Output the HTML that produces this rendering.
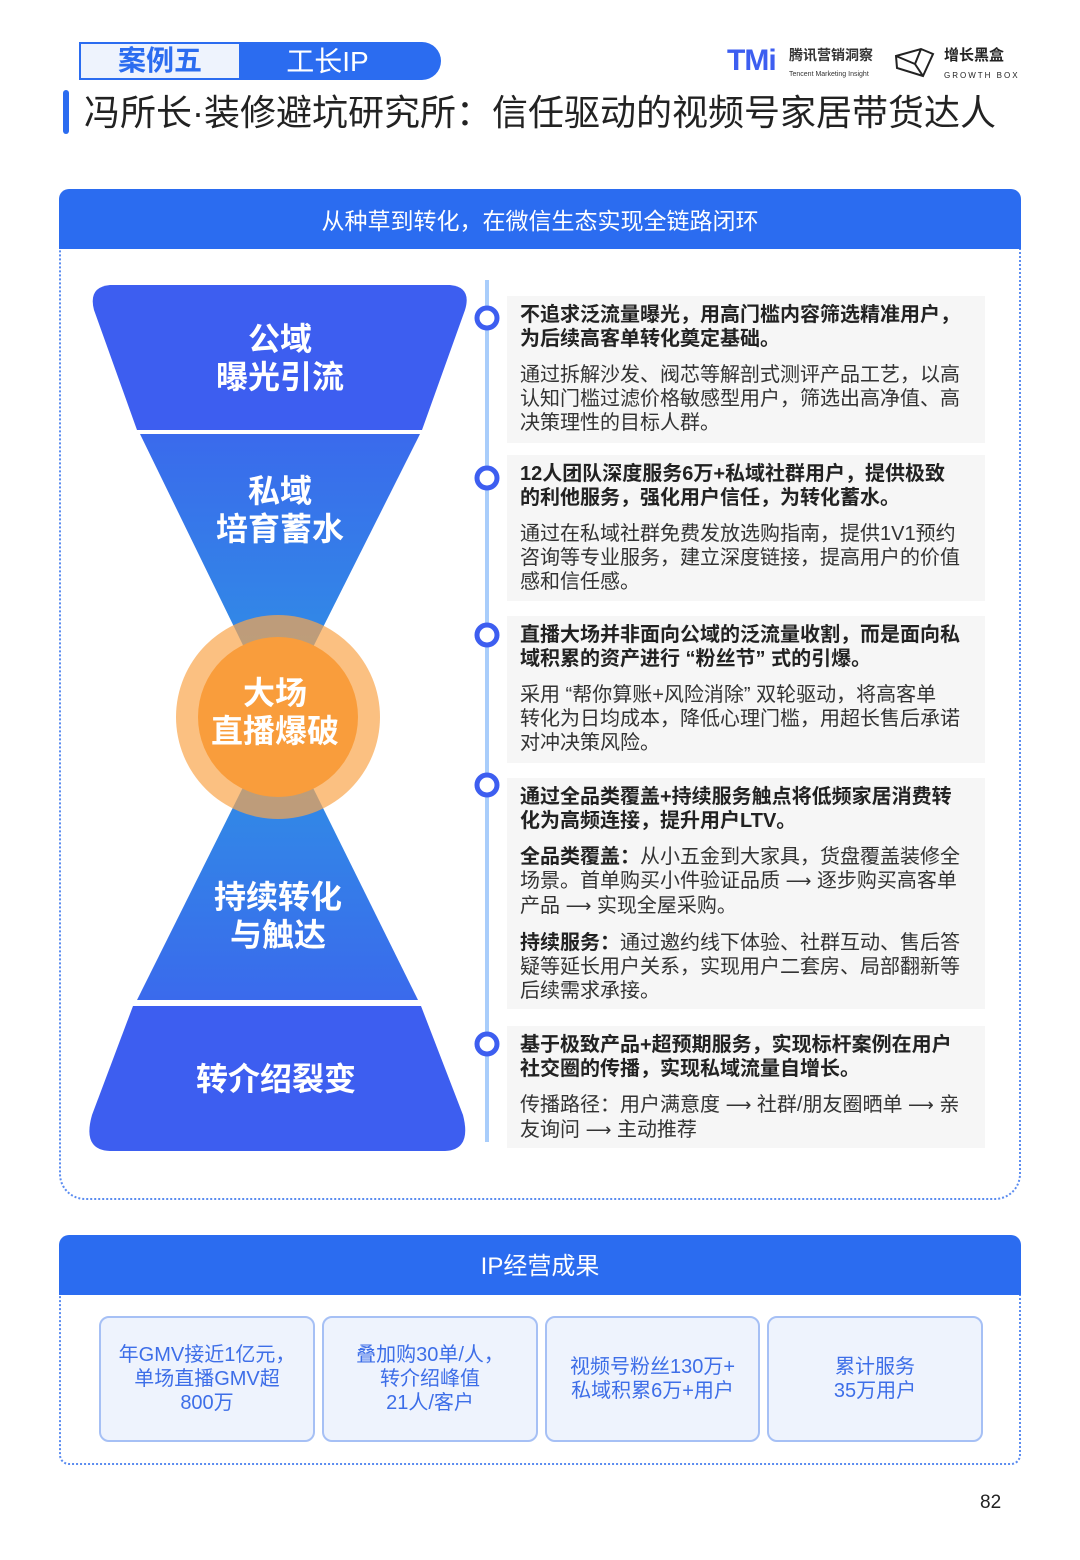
<!DOCTYPE html>
<html><head><meta charset="utf-8"><style>
*{margin:0;padding:0;box-sizing:border-box}
body{width:1080px;height:1560px;background:#fff;position:relative;font-family:"Liberation Sans","Noto Sans CJK SC",sans-serif;overflow:hidden}
.a{position:absolute}
.card{position:absolute;left:507px;width:478px;background:#f6f6f6;padding:7px 0 0 13px;font-size:20px;line-height:24px;color:#333;white-space:nowrap}
.card b{color:#222;font-weight:700}
.card p{margin-bottom:12px}
.ar{font-family:"DejaVu Sans",sans-serif;font-size:18px}
.res{position:absolute;top:1316px;height:126px;border:2px solid #a6c0f5;border-radius:10px;background:#eef3fd;color:#3d6ee8;font-size:20px;line-height:24px;text-align:center;display:flex;align-items:center;justify-content:center}
</style></head><body>
<div class="a" style="left:79px;top:42px;width:362px;height:38px;background:#2b6cf0;border-radius:0 19px 19px 0"></div>
<div class="a" style="left:81px;top:44px;width:158px;height:34px;background:#eef3fd;color:#2b6cf0;font-size:28px;font-weight:700;text-align:center;line-height:34px">案例五</div>
<div class="a" style="left:240px;top:42px;width:175px;height:38px;color:#fff;font-size:28px;text-align:center;line-height:40px">工长IP</div>
<div class="a" style="left:727px;top:44px;font-size:30px;font-weight:900;color:#3d5ef0;letter-spacing:-1px">TMi</div>
<div class="a" style="left:789px;top:47px;font-size:14px;font-weight:700;color:#333;line-height:16px">腾讯营销洞察<br><span style="font-size:7px;font-weight:400">Tencent Marketing Insight</span></div>
<svg class="a" style="left:893px;top:46px" width="44" height="32"><path d="M3 10 L28 3 L40 8 L30 30 L4 22 Z M28 3 L22 18 L30 30 M22 18 L3 10" fill="none" stroke="#222" stroke-width="2"/></svg>
<div class="a" style="left:944px;top:47px;font-size:15px;font-weight:700;color:#222;line-height:18px">增长黑盒<br><span style="font-size:8px;letter-spacing:2px;font-weight:400">GROWTH BOX</span></div>
<div class="a" style="left:63px;top:90px;width:6px;height:44px;background:#2b6cf0;border-radius:3px"></div>
<div class="a" style="left:84px;top:89px;font-size:36px;color:#222;line-height:48px;letter-spacing:0">冯所长·装修避坑研究所：信任驱动的视频号家居带货达人</div>

<div class="a" style="left:59px;top:240px;width:962px;height:960px;border:2px dotted #5b8cf0;border-top:none;border-radius:0 0 26px 26px"></div>
<div class="a" style="left:59px;top:189px;width:962px;height:60px;background:#2b6cf0;border-radius:10px 10px 0 0;color:#fff;font-size:23px;text-align:center;line-height:64px">从种草到转化，在微信生态实现全链路闭环</div>

<svg class="a" style="left:0;top:0" width="520" height="1200">
<defs>
<linearGradient id="g1" x1="0" y1="434" x2="0" y2="717" gradientUnits="userSpaceOnUse"><stop offset="0" stop-color="#3a6aec"/><stop offset="1" stop-color="#2e95e4"/></linearGradient>
<linearGradient id="g2" x1="0" y1="717" x2="0" y2="1000" gradientUnits="userSpaceOnUse"><stop offset="0" stop-color="#2e95e4"/><stop offset="1" stop-color="#3a6aec"/></linearGradient>
</defs>
<path d="M110 285 L450 285 Q472 287 465 310 L422 430 L137 430 L94 310 Q88 287 110 285 Z" fill="#3d5ef0"/>
<path d="M140 434 L420 434 L278 717 Z" fill="url(#g1)"/>
<path d="M278 717 L418 1000 L137 1000 Z" fill="url(#g2)"/>
<path d="M133 1006 L421 1006 L463 1115 Q472 1150 445 1151 L110 1151 Q82 1150 92 1115 Z" fill="#3d5ef0"/>
<circle cx="278" cy="717" r="102" fill="#f9a54b" opacity="0.7"/>
<circle cx="278" cy="717" r="80" fill="#f99d3c"/>
<line x1="487" y1="280" x2="487" y2="1142" stroke="#a9cdfb" stroke-width="4"/>
<g fill="#fff" stroke="#3d5ef0" stroke-width="5">
<circle cx="487" cy="318" r="10"/><circle cx="487" cy="478" r="10"/><circle cx="487" cy="635" r="10"/><circle cx="487" cy="785" r="10"/><circle cx="487" cy="1044" r="10"/></g>
<g fill="#fff" font-weight="700" font-size="32" text-anchor="middle" font-family="Liberation Sans,Noto Sans CJK SC,sans-serif">
<text x="280" y="350">公域</text><text x="280" y="388">曝光引流</text>
<text x="280" y="502">私域</text><text x="280" y="540">培育蓄水</text>
<text x="275" y="704">大场</text><text x="275" y="742">直播爆破</text>
<text x="278" y="908">持续转化</text><text x="278" y="946">与触达</text>
<text x="276" y="1090">转介绍裂变</text>
</g>
</svg>

<div class="card" style="top:296px;height:147px"><p><b>不追求泛流量曝光，用高门槛内容筛选精准用户，<br>为后续高客单转化奠定基础。</b></p><p>通过拆解沙发、阀芯等解剖式测评产品工艺，以高<br>认知门槛过滤价格敏感型用户，筛选出高净值、高<br>决策理性的目标人群。</p></div>
<div class="card" style="top:455px;height:146px"><p><b>12人团队深度服务6万+私域社群用户，提供极致<br>的利他服务，强化用户信任，为转化蓄水。</b></p><p>通过在私域社群免费发放选购指南，提供1V1预约<br>咨询等专业服务，建立深度链接，提高用户的价值<br>感和信任感。</p></div>
<div class="card" style="top:616px;height:147px"><p><b>直播大场并非面向公域的泛流量收割，而是面向私<br>域积累的资产进行 “粉丝节” 式的引爆。</b></p><p>采用 “帮你算账+风险消除” 双轮驱动，将高客单<br>转化为日均成本，降低心理门槛，用超长售后承诺<br>对冲决策风险。</p></div>
<div class="card" style="top:778px;height:231px"><p><b>通过全品类覆盖+持续服务触点将低频家居消费转<br>化为高频连接，提升用户LTV。</b></p><p><b>全品类覆盖：</b>从小五金到大家具，货盘覆盖装修全<br>场景。首单购买小件验证品质 <span class="ar">⟶</span> 逐步购买高客单<br>产品 <span class="ar">⟶</span> 实现全屋采购。</p><p><b>持续服务：</b>通过邀约线下体验、社群互动、售后答<br>疑等延长用户关系，实现用户二套房、局部翻新等<br>后续需求承接。</p></div>
<div class="card" style="top:1026px;height:122px"><p><b>基于极致产品+超预期服务，实现标杆案例在用户<br>社交圈的传播，实现私域流量自增长。</b></p><p>传播路径：用户满意度 <span class="ar">⟶</span> 社群/朋友圈晒单 <span class="ar">⟶</span> 亲<br>友询问 <span class="ar">⟶</span> 主动推荐</p></div>

<div class="a" style="left:59px;top:1286px;width:962px;height:179px;border:2px dotted #5b8cf0;border-top:none;border-radius:0 0 10px 10px"></div>
<div class="a" style="left:59px;top:1235px;width:962px;height:60px;background:#2b6cf0;border-radius:10px 10px 0 0;color:#fff;font-size:24px;text-align:center;line-height:64px">IP经营成果</div>
<div class="res" style="left:99px;width:216px">年GMV接近1亿元，<br>单场直播GMV超<br>800万</div>
<div class="res" style="left:322px;width:216px">叠加购30单/人，<br>转介绍峰值<br>21人/客户</div>
<div class="res" style="left:545px;width:215px">视频号粉丝130万+<br>私域积累6万+用户</div>
<div class="res" style="left:767px;width:216px">累计服务<br>35万用户</div>
<div class="a" style="left:980px;top:1492px;font-size:19px;color:#222">82</div>
</body></html>
